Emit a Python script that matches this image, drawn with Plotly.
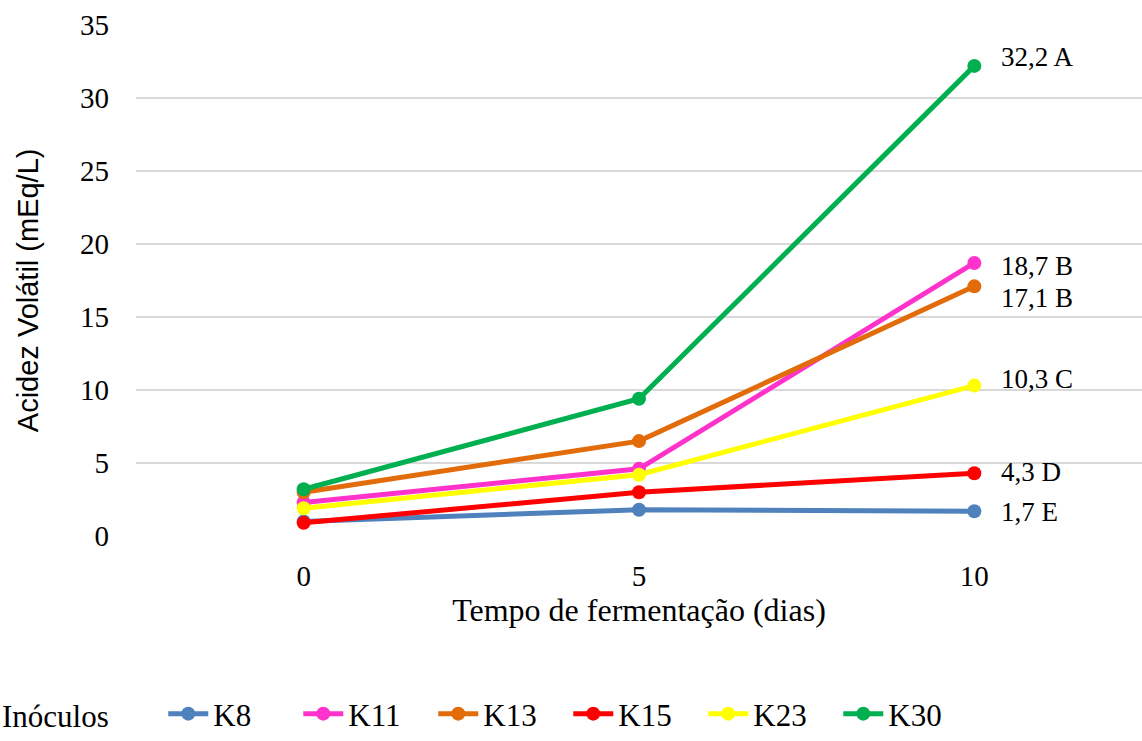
import plotly.graph_objects as go

# Fermentation time (days)
dias = [0, 5, 10]

# Volatile acidity (mEq/L) per inoculum
series = {
    "K8": [1.0, 1.8, 1.7],
    "K11": [2.3, 4.6, 18.7],
    "K13": [3.0, 6.5, 17.1],
    "K15": [0.9, 3.0, 4.3],
    "K23": [1.9, 4.2, 10.3],
    "K30": [3.2, 9.4, 32.2],
}
cores = {
    "K8": "#4f81bd",
    "K11": "#ff33cc",
    "K13": "#e36c0a",
    "K15": "#ff0000",
    "K23": "#ffff00",
    "K30": "#00b050",
}
# Significance letters for the final values
letras = {"K8": "E", "K11": "B", "K13": "B", "K15": "D", "K23": "C", "K30": "A"}
# vertical nudges (px) keeping end labels apart
deslocamento = {"K8": -1, "K11": -3, "K13": -12, "K15": 1, "K23": 7, "K30": 9}

serif = "Liberation Serif, Times New Roman, serif"

fig = go.Figure()
for nome, vals in series.items():
    fig.add_trace(go.Scatter(
        x=dias, y=vals, name=nome, mode="lines+markers",
        line=dict(color=cores[nome], width=5),
        marker=dict(color=cores[nome], size=14),
    ))

for nome, vals in series.items():
    rotulo = f"{vals[-1]:.1f}".replace(".", ",") + " " + letras[nome]
    fig.add_annotation(
        x=dias[-1], y=vals[-1], text=rotulo, showarrow=False,
        xanchor="left", yanchor="middle", xshift=25, yshift=deslocamento[nome],
        font=dict(family=serif, size=27, color="black"),
    )

# y-axis title placed as a rotated annotation
fig.add_annotation(
    text="Acidez Volátil (mEq/L)", textangle=-90, showarrow=False,
    xref="paper", yref="paper", x=0, y=0.481, xanchor="center", yanchor="middle",
    xshift=-108, font=dict(family="Liberation Sans, Arial, sans-serif", size=29, color="black"),
)

fig.update_layout(
    width=1142, height=741,
    margin=dict(l=136, r=0, t=25, b=205),
    paper_bgcolor="white", plot_bgcolor="white",
    showlegend=True,
    legend=dict(
        orientation="h", xref="container", x=-0.014, xanchor="left",
        yref="container", y=-0.003, yanchor="bottom",
        title=dict(text="Inóculos      ", font=dict(family=serif, size=31, color="black")),
        font=dict(family=serif, size=31, color="black"),
        itemwidth=40, tracegroupgap=0,
        entrywidth=80, entrywidthmode="pixels",
    ),
    xaxis=dict(
        range=[-2.5, 12.5], tickvals=dias, ticktext=[str(d) for d in dias],
        showgrid=False, zeroline=False, showline=False, ticks="",
        tickfont=dict(family=serif, size=29, color="black"),
        ticklabelstandoff=20,
        title=dict(text="Tempo de fermentação (dias)", standoff=6,
                   font=dict(family=serif, size=32, color="black")),
    ),
    yaxis=dict(
        range=[0, 35], dtick=5, showgrid=True, gridcolor="#d9d9d9", gridwidth=2,
        zeroline=False, showline=False, ticks="",
        tickfont=dict(family=serif, size=29, color="black"),
        ticklabelstandoff=26,
    ),
)

fig.write_html("out.html")
